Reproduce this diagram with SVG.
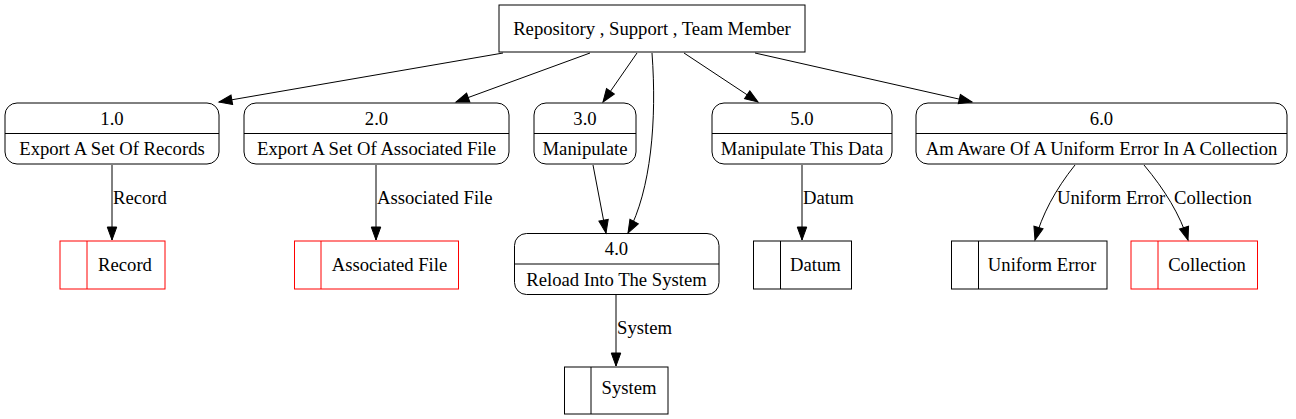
<svg xmlns="http://www.w3.org/2000/svg" width="1296" height="419" viewBox="0 0 1296 419" font-family="Liberation Serif, serif">
<style>
text{font-family:'Liberation Serif','Times New Roman',serif;font-size:18.67px;fill:#000}
.c{text-anchor:middle}
.n rect,.n line{fill:none;stroke:#000;stroke-width:1}
.s rect,.s line{fill:none;stroke:#000;stroke-width:1}
.r rect,.r line{stroke:#ff0000}
.e path{fill:none;stroke:#000;stroke-width:1;marker-end:url(#a)}
</style>
<defs>
<marker id="a" markerUnits="userSpaceOnUse" markerWidth="13" markerHeight="10" refX="13" refY="4.75" orient="auto" overflow="visible">
<path d="M0,0 L13,4.75 L0,9.5 z" fill="#000" stroke="#000"/>
</marker>
</defs>
<rect width="1296" height="419" fill="#fff"/>
<g id="entity" class="n"><rect x="499" y="5" width="306" height="47"/><text class="c" x="652" y="35">Repository , Support , Team Member</text></g>
<g id="p1" class="n"><rect x="5" y="103" width="214" height="61" rx="12"/><line x1="5" y1="133.5" x2="219" y2="133.5"/><text class="c" x="112" y="124.5">1.0</text><text class="c" x="112" y="155">Export A Set Of Records</text></g>
<g id="p2" class="n"><rect x="244" y="103" width="265" height="61" rx="12"/><line x1="244" y1="133.5" x2="509" y2="133.5"/><text class="c" x="376.5" y="124.5">2.0</text><text class="c" x="376.5" y="155">Export A Set Of Associated File</text></g>
<g id="p3" class="n"><rect x="534" y="103" width="102" height="61" rx="12"/><line x1="534" y1="133.5" x2="636" y2="133.5"/><text class="c" x="585" y="124.5">3.0</text><text class="c" x="585" y="155">Manipulate</text></g>
<g id="p5" class="n"><rect x="712" y="103" width="180" height="61" rx="12"/><line x1="712" y1="133.5" x2="892" y2="133.5"/><text class="c" x="802" y="124.5">5.0</text><text class="c" x="802" y="155">Manipulate This Data</text></g>
<g id="p6" class="n"><rect x="916" y="103" width="371" height="61" rx="12"/><line x1="916" y1="133.5" x2="1287" y2="133.5"/><text class="c" x="1101.5" y="124.5">6.0</text><text class="c" x="1101.5" y="155">Am Aware Of A Uniform Error In A Collection</text></g>
<g id="p4" class="n"><rect x="514.5" y="233.5" width="204.5" height="61" rx="12"/><line x1="514.5" y1="264" x2="719" y2="264"/><text class="c" x="616.5" y="255">4.0</text><text class="c" x="616.5" y="285.5">Reload Into The System</text></g>
<g id="d1" class="s r"><rect x="60" y="241" width="105" height="48"/><line x1="87" y1="241" x2="87" y2="289"/><text class="c" x="125" y="271">Record</text></g>
<g id="d2" class="s r"><rect x="294.5" y="241" width="164" height="48"/><line x1="321" y1="241" x2="321" y2="289"/><text class="c" x="389.5" y="271">Associated File</text></g>
<g id="d3" class="s"><rect x="564.5" y="367" width="103.5" height="47"/><line x1="591" y1="367" x2="591" y2="414"/><text class="c" x="629" y="394">System</text></g>
<g id="d4" class="s"><rect x="753.5" y="241" width="98" height="48"/><line x1="780.5" y1="241" x2="780.5" y2="289"/><text class="c" x="815.5" y="271">Datum</text></g>
<g id="d5" class="s"><rect x="951.5" y="241" width="155.5" height="48"/><line x1="978.5" y1="241" x2="978.5" y2="289"/><text class="c" x="1042" y="271">Uniform Error</text></g>
<g id="d6" class="s r"><rect x="1131" y="241" width="126.5" height="48"/><line x1="1158" y1="241" x2="1158" y2="289"/><text class="c" x="1207" y="271">Collection</text></g>
<g id="edges" class="e">
<path d="M503,53 L219,102"/>
<path d="M590,53 L456,102"/>
<path d="M637,53 L603,102"/>
<path d="M652,53 C657,120 651,190 628,233"/>
<path d="M593,165 L606,233"/>
<path d="M684,53 L758,102"/>
<path d="M755,53 L972,102"/>
<path d="M112,165 L112,240"/>
<path d="M376,165 L376,240"/>
<path d="M616,295 L616,366"/>
<path d="M802,165 L802,240"/>
<path d="M1075,165 C1055,190 1042,215 1035,240"/>
<path d="M1144,165 C1165,190 1180,215 1188,240"/>
</g>
<g id="edge-labels">
<text x="113" y="204">Record</text>
<text x="377" y="204">Associated File</text>
<text x="617" y="334">System</text>
<text x="803" y="204">Datum</text>
<text x="1057" y="204">Uniform Error</text>
<text x="1174" y="204">Collection</text>
</g>
</svg>
